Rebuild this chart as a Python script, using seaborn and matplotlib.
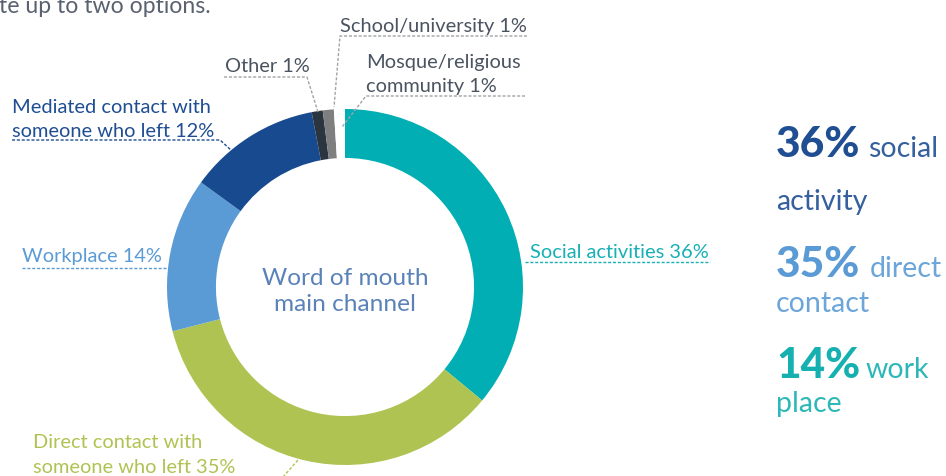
import matplotlib
matplotlib.use("Agg")
import matplotlib.pyplot as plt
import seaborn as sns

# ---- data ----
categories = ["Social activities", "Direct contact with\nsomeone who left", "Workplace",
              "Mediated contact with\nsomeone who left", "Other", "School/university",
              "Mosque/religious\ncommunity"]
shares = [36, 35, 14, 12, 1, 1, 1]
slice_colors = ["#00AEB3", "#AFC352", "#5B9BD5", "#174A8F", "#2B3540", "#7F7F7F", "#FFFFFF"]
label_colors = ["#17B0B5", "#AFC352", "#5B9BD5", "#1F4E93", "#4A5360", "#4A5360", "#4A5360"]
center_text = "Word of mouth\nmain channel"
side_big = ["36%", "35%", "14%"]
side_small = [("social", "activity"), ("direct", "contact"), ("work", "place")]
side_colors = ["#1F4E93", "#5B9BD5", "#17B0B0"]
subtitle_tail = "te up to two options."

sns.set_theme(style="white")
plt.rcParams["font.family"] = ["Lato", "DejaVu Sans"]

W, H = 946, 477
fig = plt.figure(figsize=(W / 100, H / 100), dpi=100)

# overlay axes in pixel coords
ov = fig.add_axes([0, 0, 1, 1])
ov.set_xlim(0, W)
ov.set_ylim(H, 0)
ov.axis("off")

# donut
cx, cy, R = 345, 288, 178
pie_ax = fig.add_axes([(cx - R) / W, (H - cy - R) / H, 2 * R / W, 2 * R / H])
pie_ax.pie(shares, colors=slice_colors, startangle=90, counterclock=False,
           radius=1, wedgeprops=dict(width=0.275, linewidth=0))
pie_ax.set_xlim(-1, 1)
pie_ax.set_ylim(-1, 1)
pie_ax.set_aspect("equal")
pie_ax.axis("off")
pie_ax.text(0, -0.02, center_text, ha="center", va="center", fontsize=17.6,
            color="#5B82B8", linespacing=1.25)

ov.set_zorder(3)

fs = 14.4
dash = dict(linestyle=(0, (2.2, 1.3)), linewidth=1.0)

def label(i, x, baselines, line_pts):
    lines = f"{categories[i]} {shares[i]}%".split("\n")
    for ln, by in zip(lines, baselines):
        ov.text(x, by, ln, ha="left", va="baseline", fontsize=fs, color=label_colors[i])
    xs = [p[0] for p in line_pts]
    ys = [p[1] for p in line_pts]
    ov.plot(xs, ys, color=label_colors[i] if i < 4 else "#A0A4A8", **dash)

label(0, 530, [258], [(525, 263), (710, 263)])
label(2, 22, [262], [(22, 269), (168, 269)])
label(3, 12, [113, 137], [(12, 141), (220, 141), (232, 152)])
label(1, 33, [448, 473], [(283, 478), (298, 461)])
label(4, 225, [72], [(224, 78), (307, 78), (318, 113)])
label(5, 340, [32], [(527, 37), (340, 37), (334, 108)])
label(6, 366, [68, 92], [(525, 97), (366, 97), (342, 128)])

# subtitle tail (cut off at the top edge, as in the source)
ov.text(-1, 13, subtitle_tail, ha="left", va="baseline", fontsize=16.6, color="#5A6270")

# side annotations
big_base = [157, 277, 378]
small_x = [868, 870, 866]
small2_base = [210, 312, 412]
for k in range(3):
    ov.text(776, big_base[k], side_big[k], ha="left", va="baseline", fontsize=30.5,
            fontweight="black", color=side_colors[k])
    ov.text(small_x[k], big_base[k], side_small[k][0], ha="left", va="baseline",
            fontsize=20.5, color=side_colors[k], alpha=0.9)
    ov.text(776, small2_base[k], side_small[k][1], ha="left", va="baseline",
            fontsize=20.5, color=side_colors[k], alpha=0.9)

fig.savefig("out.png", dpi=100, facecolor="white")
